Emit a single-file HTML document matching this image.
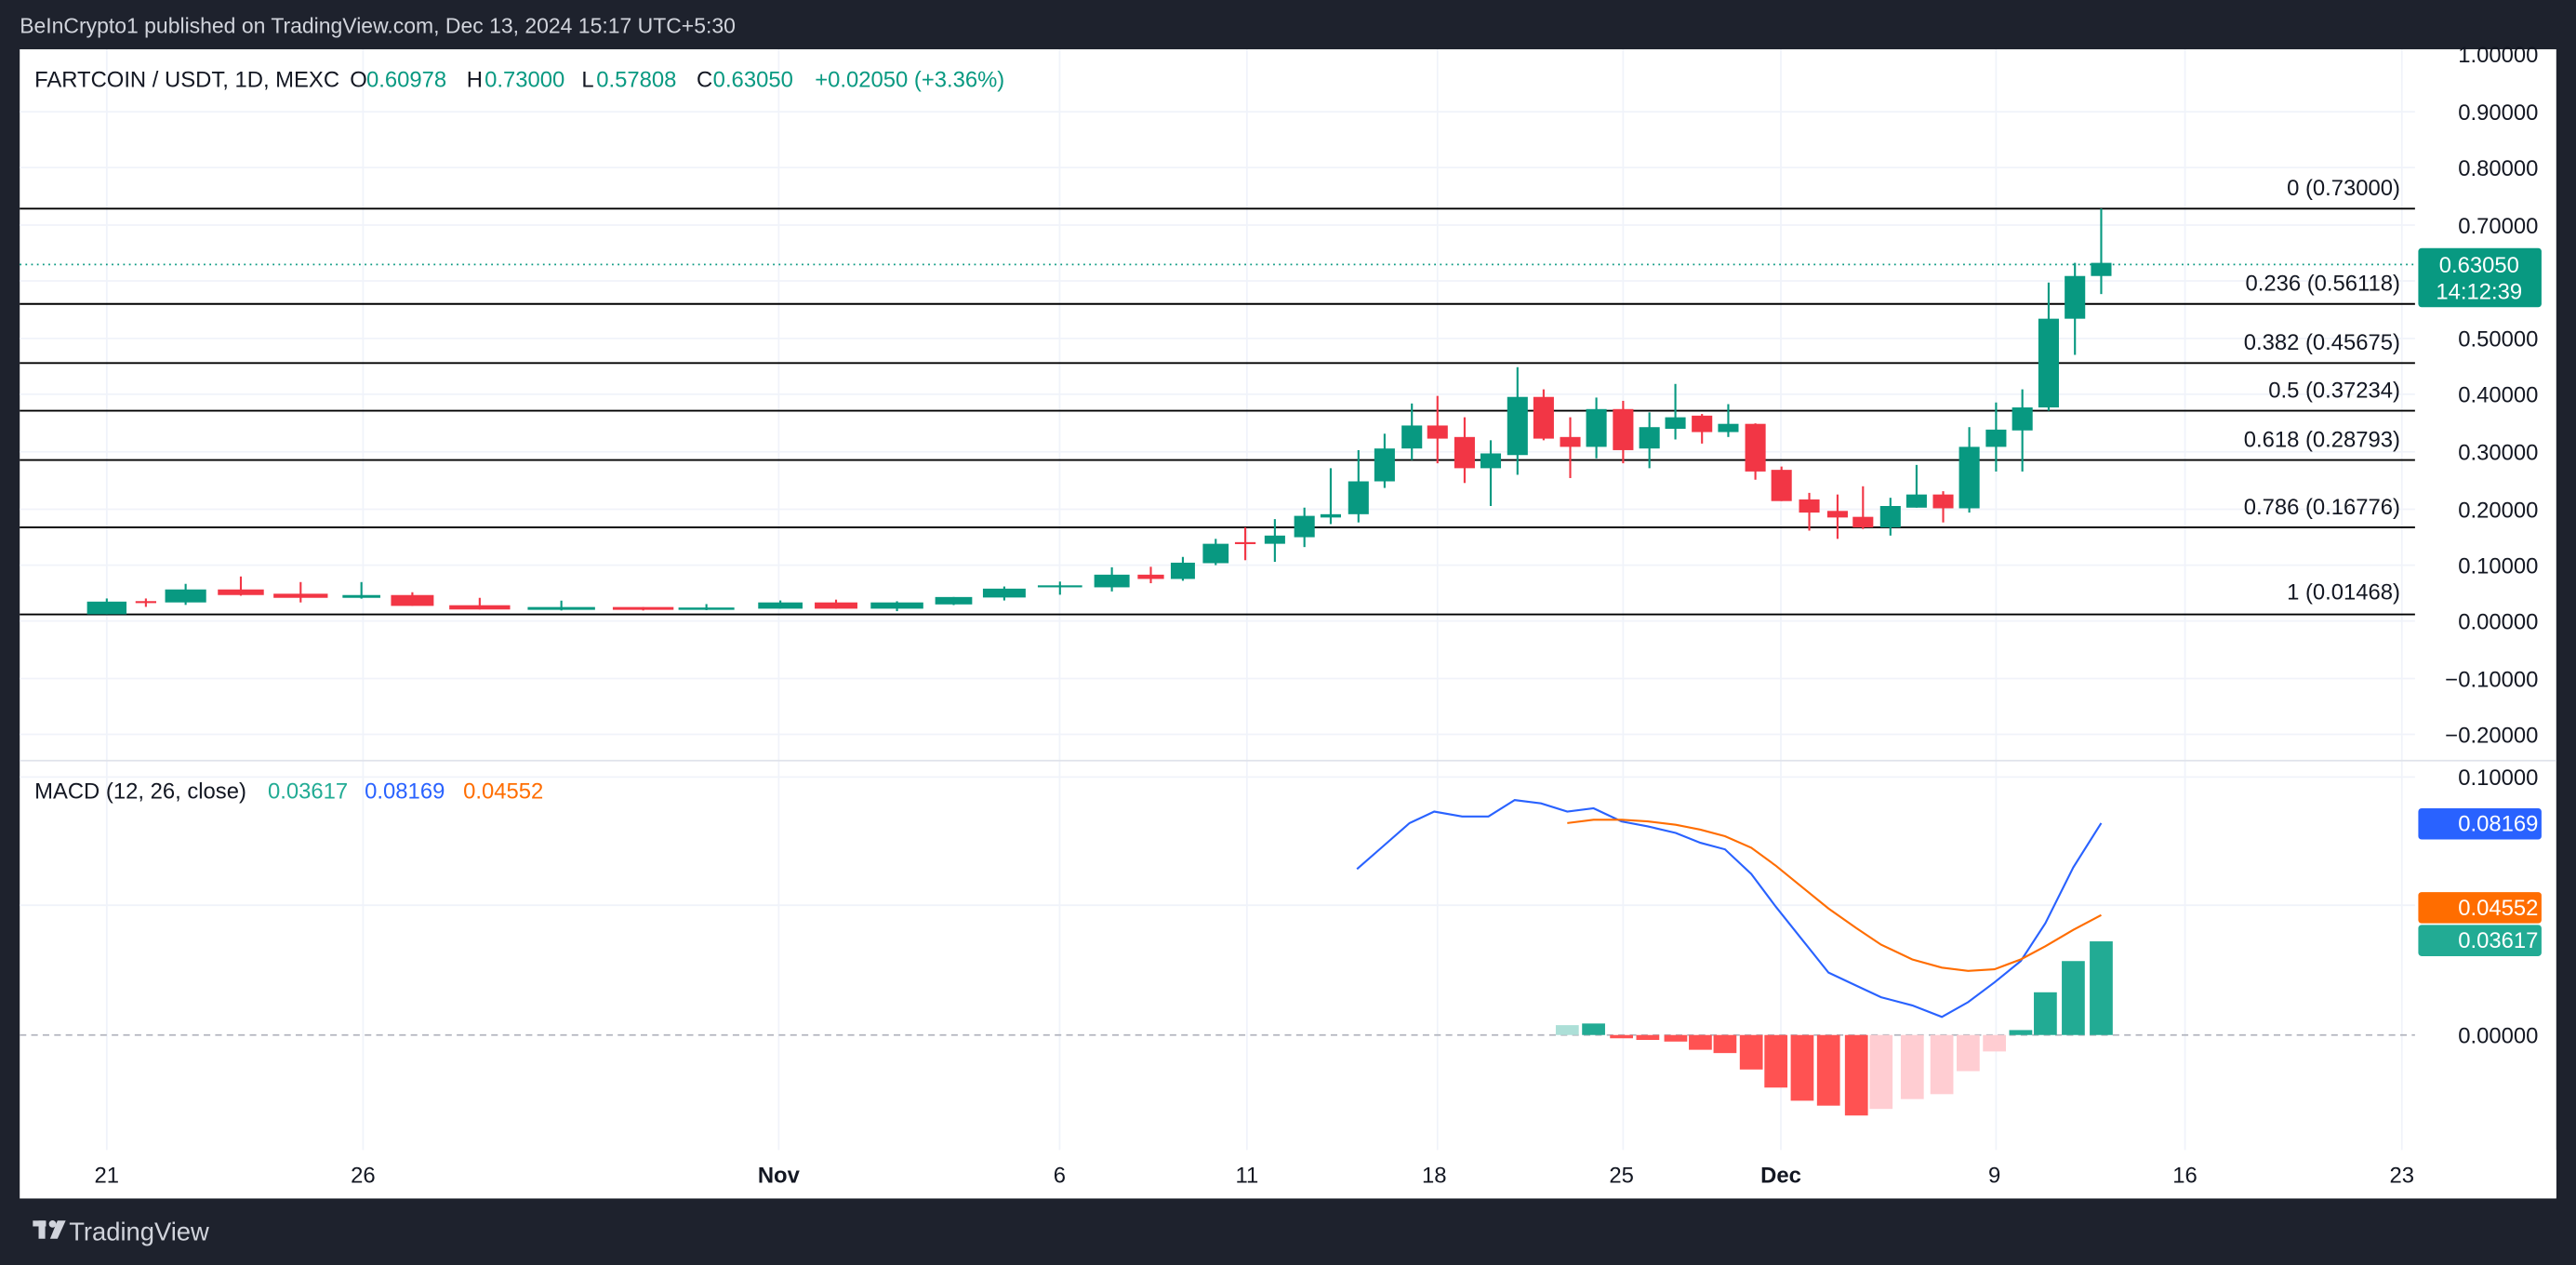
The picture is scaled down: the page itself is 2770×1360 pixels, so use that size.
<!DOCTYPE html>
<html><head><meta charset="utf-8"><style>
html,body{margin:0;padding:0;background:#1e222d;}
svg{display:block;}
text{font-family:"Liberation Sans",sans-serif;}
</style></head><body>
<svg width="2770" height="1360" viewBox="0 0 1568 770" preserveAspectRatio="none" xmlns="http://www.w3.org/2000/svg">
<rect x="0" y="0" width="1568" height="770" fill="#1e222d"/>
<text x="12" y="20" font-size="13" fill="#d1d4dc">BeInCrypto1 published on TradingView.com, Dec 13, 2024 15:17 UTC+5:30</text>
<rect x="12" y="30" width="1544" height="699.5" fill="#ffffff"/>
<g stroke="#f0f3fa" stroke-width="1">
<line x1="12" x2="1470" y1="68" y2="68"/><line x1="12" x2="1470" y1="102" y2="102"/>
<line x1="12" x2="1470" y1="137" y2="137"/><line x1="12" x2="1470" y1="171" y2="171"/>
<line x1="12" x2="1470" y1="206" y2="206"/><line x1="12" x2="1470" y1="240" y2="240"/>
<line x1="12" x2="1470" y1="275" y2="275"/><line x1="12" x2="1470" y1="310" y2="310"/>
<line x1="12" x2="1470" y1="344" y2="344"/><line x1="12" x2="1470" y1="378" y2="378"/>
<line x1="12" x2="1470" y1="413" y2="413"/><line x1="12" x2="1470" y1="447" y2="447"/>
<line x1="12" x2="1470" y1="473" y2="473"/><line x1="12" x2="1470" y1="551" y2="551"/>
<line x1="65" x2="65" y1="30" y2="700"/><line x1="221" x2="221" y1="30" y2="700"/>
<line x1="474" x2="474" y1="30" y2="700"/><line x1="645" x2="645" y1="30" y2="700"/>
<line x1="759" x2="759" y1="30" y2="700"/><line x1="875" x2="875" y1="30" y2="700"/>
<line x1="988" x2="988" y1="30" y2="700"/><line x1="1084" x2="1084" y1="30" y2="700"/>
<line x1="1215" x2="1215" y1="30" y2="700"/><line x1="1330" x2="1330" y1="30" y2="700"/>
<line x1="1462" x2="1462" y1="30" y2="700"/>
</g>
<line x1="12" x2="1556" y1="463" y2="463" stroke="#e0e3eb" stroke-width="1"/>
<g stroke="#000" stroke-width="1.1">
<line x1="12" x2="1470" y1="127" y2="127"/><line x1="12" x2="1470" y1="185" y2="185"/>
<line x1="12" x2="1470" y1="221" y2="221"/><line x1="12" x2="1470" y1="250" y2="250"/>
<line x1="12" x2="1470" y1="280" y2="280"/><line x1="12" x2="1470" y1="321" y2="321"/>
<line x1="12" x2="1470" y1="374" y2="374"/>
</g>
<g font-size="13.5" fill="#131722" text-anchor="end">
<text x="1461" y="119">0 (0.73000)</text>
<text x="1461" y="177">0.236 (0.56118)</text>
<text x="1461" y="213">0.382 (0.45675)</text>
<text x="1461" y="242">0.5 (0.37234)</text>
<text x="1461" y="272">0.618 (0.28793)</text>
<text x="1461" y="313">0.786 (0.16776)</text>
<text x="1461" y="365">1 (0.01468)</text>
</g>
<line x1="12" x2="1470" y1="161" y2="161" stroke="#089981" stroke-width="1" stroke-dasharray="1,2.5"/>
<!-- green candles -->
<g fill="#089981">
<rect x="64.4" y="364.3" width="1.2" height="9.6"/><rect x="53" y="366.2" width="24" height="7.7"/>
<rect x="112.4" y="355.4" width="1.2" height="12.8"/><rect x="100.5" y="358.8" width="25" height="7.9"/>
<rect x="219.4" y="354.3" width="1.2" height="10.1"/><rect x="208.5" y="362.2" width="23" height="1.7"/>
<rect x="341.1" y="365.6" width="1.2" height="6"/><rect x="321.2" y="369.5" width="41" height="1.7"/>
<rect x="429.4" y="367.7" width="1.2" height="3.7"/><rect x="413" y="369.8" width="34" height="1.4"/>
<rect x="474.4" y="365.5" width="1.2" height="5"/><rect x="461.5" y="366.7" width="27" height="3.8"/>
<rect x="545.4" y="366" width="1.2" height="6"/><rect x="530" y="366.7" width="32" height="3.8"/>
<rect x="579.9" y="363.4" width="1.2" height="4.9"/><rect x="569.25" y="363.4" width="22.5" height="4.5"/>
<rect x="610.7" y="357" width="1.2" height="8.5"/><rect x="598.3" y="358.3" width="26" height="5.4"/>
<rect x="644.6" y="354" width="1.2" height="8"/><rect x="631.7" y="356.3" width="27" height="1.2"/>
<rect x="676.2" y="345.3" width="1.2" height="14.7"/><rect x="666.05" y="349.8" width="21.5" height="7.7"/>
<rect x="719.4" y="339" width="1.2" height="14.5"/><rect x="712.65" y="342.5" width="14.7" height="9.9"/>
<rect x="739.4" y="328" width="1.2" height="16"/><rect x="732.15" y="331" width="15.7" height="11.8"/>
<rect x="775.4" y="316" width="1.2" height="26"/><rect x="769.75" y="326" width="12.5" height="5"/>
<rect x="793.4" y="309" width="1.2" height="24"/><rect x="787.75" y="314" width="12.5" height="13"/>
<rect x="809.4" y="285" width="1.2" height="34"/><rect x="803.75" y="313" width="12.5" height="2"/>
<rect x="826.3" y="274" width="1.2" height="44"/><rect x="820.65" y="293" width="12.5" height="20"/>
<rect x="842.2" y="264" width="1.2" height="33"/><rect x="836.55" y="273" width="12.5" height="20"/>
<rect x="858.8" y="245.6" width="1.2" height="34.4"/><rect x="853.15" y="259" width="12.5" height="14"/>
<rect x="906.8" y="268" width="1.2" height="40"/><rect x="901.15" y="276" width="12.5" height="9"/>
<rect x="923.1" y="223.5" width="1.2" height="65.5"/><rect x="917.45" y="241.6" width="12.5" height="35.4"/>
<rect x="971.1" y="242" width="1.2" height="37"/><rect x="965.45" y="249" width="12.5" height="23"/>
<rect x="1003.4" y="251" width="1.2" height="34"/><rect x="997.75" y="260" width="12.5" height="13"/>
<rect x="1019.2" y="233.7" width="1.2" height="33.8"/><rect x="1013.55" y="254" width="12.5" height="7"/>
<rect x="1051.4" y="246" width="1.2" height="20"/><rect x="1045.75" y="258" width="12.5" height="5"/>
<rect x="1150.1" y="303" width="1.2" height="23"/><rect x="1144.45" y="308" width="12.5" height="13"/>
<rect x="1166" y="283" width="1.2" height="26"/><rect x="1160.35" y="301" width="12.5" height="8"/>
<rect x="1198.1" y="260" width="1.2" height="52"/><rect x="1192.45" y="272" width="12.5" height="37.4"/>
<rect x="1214.4" y="245" width="1.2" height="42"/><rect x="1208.75" y="261.5" width="12.5" height="10.5"/>
<rect x="1230.4" y="237" width="1.2" height="50"/><rect x="1224.75" y="248" width="12.5" height="14"/>
<rect x="1246.4" y="172" width="1.2" height="78"/><rect x="1240.75" y="194" width="12.5" height="54"/>
<rect x="1262.4" y="160" width="1.2" height="56"/><rect x="1256.75" y="168" width="12.5" height="26"/>
<rect x="1278.4" y="127" width="1.2" height="52"/><rect x="1272.75" y="160" width="12.5" height="8"/>
</g>
<!-- red candles -->
<g fill="#f23645">
<rect x="88.2" y="364.3" width="1.2" height="5.1"/><rect x="82.5" y="365.9" width="12.6" height="1.2"/>
<rect x="146" y="350.9" width="1.2" height="11.7"/><rect x="132.6" y="358.8" width="28" height="3.4"/>
<rect x="182.4" y="354.3" width="1.2" height="12.4"/><rect x="166.5" y="361.4" width="33" height="2.5"/>
<rect x="250.4" y="360.5" width="1.2" height="8.3"/><rect x="238" y="362.2" width="26" height="6.6"/>
<rect x="291.4" y="363.9" width="1.2" height="7.1"/><rect x="273.5" y="368.4" width="37" height="2.6"/>
<rect x="390.9" y="369.5" width="1.2" height="2.1"/><rect x="373" y="369.5" width="37" height="1.7"/>
<rect x="508.3" y="365" width="1.2" height="5.5"/><rect x="495.9" y="366.7" width="26" height="3.8"/>
<rect x="699.9" y="345" width="1.2" height="10"/><rect x="692.5" y="349.8" width="16" height="2.6"/>
<rect x="757.4" y="321" width="1.2" height="20"/><rect x="751.7" y="330" width="12.6" height="1.2"/>
<rect x="874.4" y="241" width="1.2" height="41"/><rect x="868.75" y="259" width="12.5" height="8"/>
<rect x="890.9" y="254" width="1.2" height="40"/><rect x="885.25" y="266" width="12.5" height="19"/>
<rect x="939" y="237" width="1.2" height="31"/><rect x="933.35" y="241.6" width="12.5" height="25.4"/>
<rect x="955.2" y="254" width="1.2" height="37"/><rect x="949.55" y="266" width="12.5" height="6"/>
<rect x="987.4" y="244" width="1.2" height="38"/><rect x="981.75" y="249" width="12.5" height="25"/>
<rect x="1035.4" y="252" width="1.2" height="18"/><rect x="1029.75" y="253" width="12.5" height="10"/>
<rect x="1067.9" y="257.7" width="1.2" height="34.3"/><rect x="1062.25" y="258" width="12.5" height="29"/>
<rect x="1083.8" y="284" width="1.2" height="21"/><rect x="1078.15" y="286" width="12.5" height="19"/>
<rect x="1100.7" y="300" width="1.2" height="23"/><rect x="1095.05" y="304" width="12.5" height="8"/>
<rect x="1117.9" y="301" width="1.2" height="27"/><rect x="1112.25" y="311" width="12.5" height="4"/>
<rect x="1133.4" y="296" width="1.2" height="26"/><rect x="1127.75" y="314.6" width="12.5" height="6.4"/>
<rect x="1182.2" y="299" width="1.2" height="19"/><rect x="1176.55" y="301" width="12.5" height="8.4"/>
</g>
<!-- price axis -->
<g font-size="13.5" fill="#131722" text-anchor="end">
<text x="1545" y="38">1.00000</text><text x="1545" y="73">0.90000</text>
<text x="1545" y="107">0.80000</text><text x="1545" y="142">0.70000</text>
<text x="1545" y="211">0.50000</text><text x="1545" y="245">0.40000</text>
<text x="1545" y="280">0.30000</text><text x="1545" y="315">0.20000</text>
<text x="1545" y="349">0.10000</text><text x="1545" y="383">0.00000</text>
<text x="1545" y="418">−0.10000</text><text x="1545" y="452">−0.20000</text>
<text x="1545" y="478">0.10000</text><text x="1545" y="635">0.00000</text>
</g>
<rect x="1472" y="151" width="75" height="36" rx="2" fill="#089981"/>
<text x="1509" y="166" font-size="13.5" fill="#fff" text-anchor="middle">0.63050</text>
<text x="1509" y="182" font-size="13.5" fill="#fff" text-anchor="middle">14:12:39</text>
<rect x="1472" y="492" width="75" height="19" rx="2" fill="#2962ff"/>
<text x="1545" y="506" font-size="13.5" fill="#fff" text-anchor="end">0.08169</text>
<rect x="1472" y="543" width="75" height="19" rx="2" fill="#ff6d00"/>
<text x="1545" y="557" font-size="13.5" fill="#fff" text-anchor="end">0.04552</text>
<rect x="1472" y="563" width="75" height="19" rx="2" fill="#22ab94"/>
<text x="1545" y="577" font-size="13.5" fill="#fff" text-anchor="end">0.03617</text>
<g font-size="13.5">
<text x="21" y="53" fill="#131722">FARTCOIN / USDT, 1D, MEXC</text>
<text x="213" y="53" fill="#131722">O</text><text x="223" y="53" fill="#089981">0.60978</text>
<text x="284" y="53" fill="#131722">H</text><text x="295" y="53" fill="#089981">0.73000</text>
<text x="354" y="53" fill="#131722">L</text><text x="363" y="53" fill="#089981">0.57808</text>
<text x="424" y="53" fill="#131722">C</text><text x="434" y="53" fill="#089981">0.63050</text>
<text x="496" y="53" fill="#089981">+0.02050 (+3.36%)</text>
<text x="21" y="486" fill="#131722">MACD (12, 26, close)</text>
<text x="163" y="486" fill="#22ab94">0.03617</text>
<text x="222" y="486" fill="#2962ff">0.08169</text>
<text x="282" y="486" fill="#ff6d00">0.04552</text>
</g>
<line x1="12" x2="1470" y1="630" y2="630" stroke="#b2b5be" stroke-width="1" stroke-dasharray="4,3"/>
<!-- histogram -->
<rect x="947" y="624" width="14" height="6" fill="#acdfd7"/>
<g fill="#22ab94">
<rect x="963" y="623" width="14" height="7"/><rect x="1223" y="627" width="14" height="3"/>
<rect x="1238" y="604" width="14" height="26"/><rect x="1255" y="585" width="14" height="45"/>
<rect x="1272" y="573" width="14" height="57"/>
</g>
<g fill="#ff5252">
<rect x="980" y="630" width="14" height="2"/><rect x="996" y="630" width="14" height="3"/>
<rect x="1013" y="630" width="14" height="4"/><rect x="1028" y="630" width="14" height="9"/>
<rect x="1043" y="630" width="14" height="11"/><rect x="1059" y="630" width="14" height="21"/>
<rect x="1074" y="630" width="14" height="32"/><rect x="1090" y="630" width="14" height="40"/>
<rect x="1106" y="630" width="14" height="43"/><rect x="1123" y="630" width="14" height="49"/>
</g>
<g fill="#ffcdd2">
<rect x="1138" y="630" width="14" height="45"/><rect x="1157" y="630" width="14" height="39"/>
<rect x="1175" y="630" width="14" height="36"/><rect x="1191" y="630" width="14" height="22"/>
<rect x="1207" y="630" width="14" height="10"/>
</g>
<polyline fill="none" stroke="#2962ff" stroke-width="1.2" points="826,529 842,515 858,501 873,494 890,497 906,497 922,487 938,489 954,494 970,492 987,500 1003,503 1020,507 1035,513 1050,517 1066,532 1081,552 1097,572 1113,592 1130,600 1145,607 1164,612 1182,619 1198,610 1214,598 1230,585 1245,562 1262,528 1279,501"/>
<polyline fill="none" stroke="#ff6d00" stroke-width="1.2" points="954,501 970,499 987,499 1003,500 1020,502 1035,505 1050,509 1066,516 1081,527 1097,540 1113,553 1130,565 1145,575 1164,584 1182,589 1198,591 1214,590 1230,584 1245,576 1262,566 1279,557"/>
<g font-size="13.5" fill="#131722" text-anchor="middle">
<text x="65" y="720">21</text><text x="221" y="720">26</text>
<text x="474" y="720" font-weight="bold">Nov</text><text x="645" y="720">6</text>
<text x="759" y="720">11</text><text x="873" y="720">18</text>
<text x="987" y="720">25</text><text x="1084" y="720" font-weight="bold">Dec</text>
<text x="1214" y="720">9</text><text x="1330" y="720">16</text>
<text x="1462" y="720">23</text>
</g>
<rect x="1470" y="700" width="86" height="29" fill="#fff"/>
<g fill="#d1d4dc">
<rect x="20" y="743" width="8" height="3.5"/><rect x="23.5" y="743" width="4" height="11"/>
<circle cx="32" cy="745" r="2.2"/><polygon points="35,743 40,743 35,754 30.5,754"/>
</g>
<text x="42" y="755" font-size="15.5" fill="#d1d4dc">TradingView</text>
</svg>
</body></html>
